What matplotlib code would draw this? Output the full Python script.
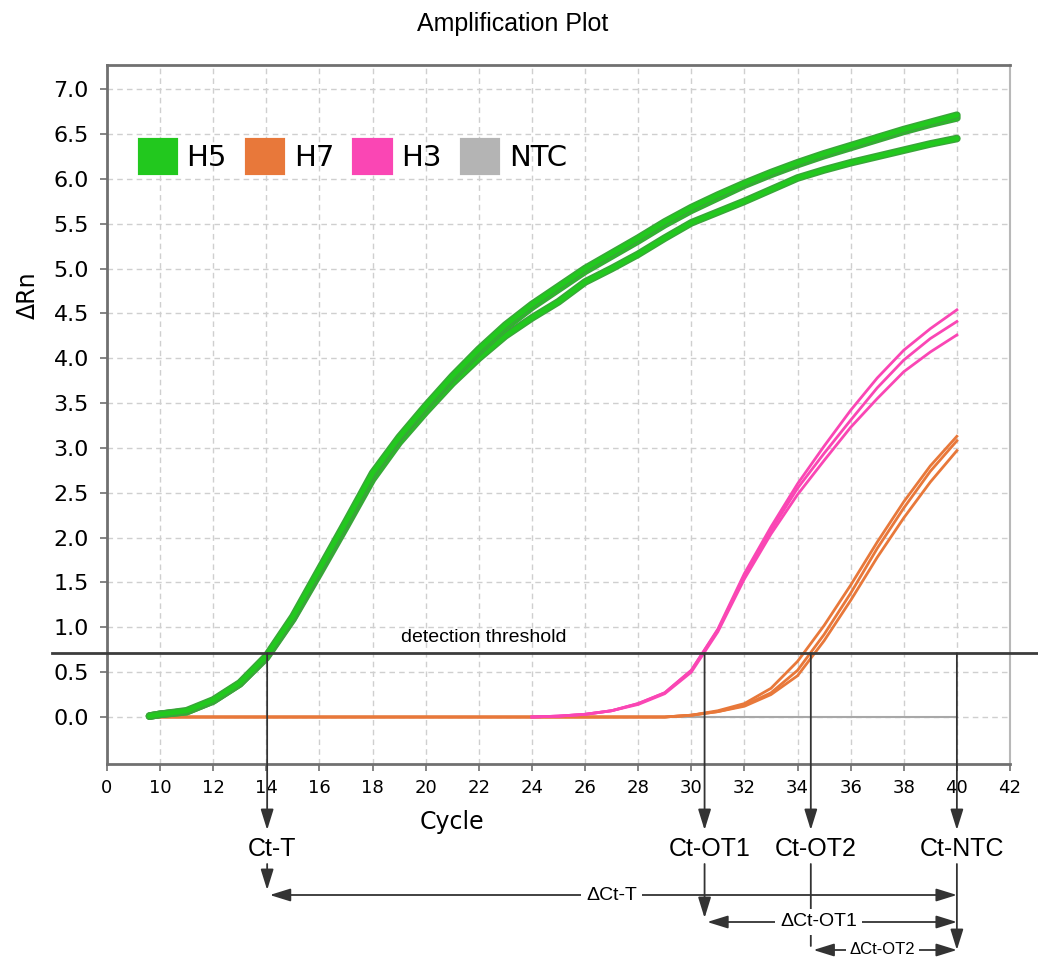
import matplotlib
matplotlib.use("Agg")
import matplotlib.pyplot as plt
import matplotlib.patheffects as pe
from matplotlib.patches import Patch

# Amplification data (cycle -> delta Rn)
cycles = [9.6, 10, 11, 12, 13, 14, 15, 16, 17, 18, 19, 20, 21, 22, 23, 24, 25,
          26, 27, 28, 29, 30, 31, 32, 33, 34, 35, 36, 37, 38, 39, 40]

h5_a = [0.01, 0.03, 0.07, 0.19, 0.38, 0.68, 1.12, 1.65, 2.18, 2.72, 3.12, 3.47,
        3.80, 4.10, 4.37, 4.60, 4.80, 5.00, 5.17, 5.34, 5.52, 5.68, 5.82, 5.95,
        6.07, 6.18, 6.28, 6.37, 6.46, 6.55, 6.63, 6.71]
h5_b = [0.01, 0.03, 0.06, 0.18, 0.37, 0.67, 1.10, 1.63, 2.15, 2.69, 3.10, 3.44,
        3.77, 4.07, 4.34, 4.57, 4.77, 4.97, 5.14, 5.31, 5.49, 5.65, 5.79, 5.93,
        6.05, 6.16, 6.26, 6.35, 6.44, 6.53, 6.61, 6.68]
h5_c = [0.01, 0.03, 0.06, 0.18, 0.37, 0.66, 1.09, 1.60, 2.12, 2.65, 3.06, 3.40,
        3.72, 4.00, 4.25, 4.45, 4.63, 4.85, 5.00, 5.16, 5.34, 5.51, 5.63, 5.75,
        5.88, 6.01, 6.10, 6.18, 6.25, 6.32, 6.39, 6.45]

h7_a = [0, 0, 0, 0, 0, 0, 0, 0, 0, 0, 0, 0, 0, 0, 0, 0, 0, 0, 0, 0,
        0.0, 0.02, 0.07, 0.15, 0.32, 0.62, 1.02, 1.47, 1.95, 2.40, 2.80, 3.13]
h7_b = [0, 0, 0, 0, 0, 0, 0, 0, 0, 0, 0, 0, 0, 0, 0, 0, 0, 0, 0, 0,
        0.0, 0.02, 0.06, 0.13, 0.27, 0.52, 0.92, 1.38, 1.88, 2.33, 2.74, 3.08]
h7_c = [0, 0, 0, 0, 0, 0, 0, 0, 0, 0, 0, 0, 0, 0, 0, 0, 0, 0, 0, 0,
        0.0, 0.02, 0.06, 0.12, 0.25, 0.46, 0.85, 1.30, 1.78, 2.22, 2.62, 2.97]

h3_cycles = [24, 25, 26, 27, 28, 29, 30, 31, 32, 33, 34, 35, 36, 37, 38, 39, 40]
h3_a = [0.0, 0.01, 0.03, 0.07, 0.15, 0.27, 0.52, 0.98, 1.60, 2.12, 2.60, 3.02,
        3.42, 3.78, 4.09, 4.33, 4.54]
h3_b = [0.0, 0.01, 0.03, 0.07, 0.15, 0.27, 0.52, 0.97, 1.57, 2.08, 2.55, 2.94,
        3.31, 3.67, 3.98, 4.22, 4.41]
h3_c = [0.0, 0.01, 0.03, 0.07, 0.14, 0.26, 0.50, 0.95, 1.54, 2.04, 2.48, 2.86,
        3.23, 3.55, 3.85, 4.07, 4.26]

ntc = [0, 0, 0, 0, 0, 0, 0, 0, 0, 0, 0, 0, 0, 0, 0, 0,
       0, 0, 0, 0, 0, 0, 0, 0, 0, 0, 0, 0, 0, 0, 0, 0]

threshold = 0.71
ct_names = ['Ct-T', 'Ct-OT1', 'Ct-OT2', 'Ct-NTC']
ct_values = [14.03, 30.5, 34.5, 40.0]

xtick_pos = [8, 10, 12, 14, 16, 18, 20, 22, 24, 26, 28, 30, 32, 34, 36, 38, 40, 42]
xtick_labels = ['0', '10', '12', '14', '16', '18', '20', '22', '24', '26', '28',
                '30', '32', '34', '36', '38', '40', '42']
ytick_pos = [0.0, 0.5, 1.0, 1.5, 2.0, 2.5, 3.0, 3.5, 4.0, 4.5, 5.0, 5.5, 6.0,
             6.5, 7.0]

GREEN = '#22c81e'
ORANGE = '#e8783a'
PINK = '#fa46b4'
GRAY = '#b4b4b4'
SANS = ['Liberation Sans', 'DejaVu Sans']

fig = plt.figure(figsize=(10.38, 9.64), dpi=100)
ax = fig.add_axes([107 / 1038, 200 / 964, 903 / 1038, 699 / 964])

# Curves
ax.plot(cycles, ntc, color='#a8a8a8', lw=1.5, zorder=2)
for ys in (h7_a, h7_b, h7_c):
    ax.plot(cycles, ys, color=ORANGE, lw=2.0, zorder=3)
for ys in (h3_a, h3_b, h3_c):
    ax.plot(h3_cycles, ys, color=PINK, lw=2.0, zorder=4)
green_fx = [pe.Stroke(linewidth=5.5, foreground='#3aa53a'), pe.Normal()]
for ys in (h5_c, h5_b, h5_a):
    ax.plot(cycles, ys, color=GREEN, lw=3.5, zorder=5, path_effects=green_fx,
            solid_capstyle='round')

# Axes styling
ax.set_xlim(8, 42)
ax.set_ylim(-0.524, 7.27)
ax.set_xticks(xtick_pos)
ax.set_xticklabels(xtick_labels, fontsize=13)
ax.set_yticks(ytick_pos)
ax.set_yticklabels(['%.1f' % v for v in ytick_pos], fontsize=16)
ax.tick_params(axis='both', direction='out', length=5, width=1.2,
               color='#707070', pad=6)
ax.tick_params(axis='y', pad=8)
ax.grid(True, linestyle=(0, (4, 3)), color='#cfcfcf', lw=1.0)
ax.set_axisbelow(True)
for side in ('left', 'bottom', 'top'):
    ax.spines[side].set_color('#707070')
    ax.spines[side].set_linewidth(2)
ax.spines['right'].set_color('#b8b8b8')
ax.spines['right'].set_linewidth(1.5)

ax.set_xlabel('Cycle', fontsize=17)
ax.xaxis.set_label_coords((452 - 107) / 903, (764 - 810) / 699)
ax.set_ylabel('\u0394Rn', fontsize=17)
ax.yaxis.set_label_coords((40 - 107) / 903, (764 - 295) / 699)
fig.text(513 / 1038, 1 - 24 / 964, 'Amplification Plot', fontsize=18,
         family=SANS, ha='center', va='center')

# Legend
handles = [Patch(facecolor=c, edgecolor=c, linewidth=3, joinstyle='round', label=l)
           for c, l in zip([GREEN, ORANGE, PINK, GRAY], ['H5', 'H7', 'H3', 'NTC'])]
ax.legend(handles=handles, ncol=4, loc='upper left', frameon=False,
          bbox_to_anchor=(0.036, 0.893), borderaxespad=0, borderpad=0,
          fontsize=21, handlelength=1.25, handleheight=1.35,
          handletextpad=0.35, columnspacing=0.7)

# Detection threshold
ax.axhline(threshold, xmin=-0.061, xmax=1.031, color='#3c3c3c', lw=2,
           clip_on=False, zorder=6)
ax.text(22.2, threshold + 0.08, 'detection threshold', fontsize=14,
        ha='center', va='bottom', family=SANS, zorder=6)

# Ct arrows and labels below the axis
FH = 964
coords = ('data', 'figure pixels')
arrow = dict(arrowstyle='-|>,head_length=0.9,head_width=0.28', color='#333333',
             lw=1.3, mutation_scale=14, shrinkA=0, shrinkB=0)
line = dict(arrowstyle='-', color='#333333', lw=1.3, shrinkA=0, shrinkB=0)
darrow = dict(arrowstyle='<|-|>,head_length=0.9,head_width=0.28',
              color='#333333', lw=1.3, mutation_scale=14, shrinkA=0, shrinkB=0)

for name, ct in zip(ct_names, ct_values):
    ax.annotate('', xy=(ct, FH - 830), xycoords=coords,
                xytext=(ct, threshold), textcoords='data',
                arrowprops=arrow, annotation_clip=False, zorder=7)
    ax.annotate(name, xy=(ct + 0.2, FH - 849), xycoords=coords,
                ha='center', va='center', fontsize=18, family=SANS,
                annotation_clip=False)

# vertical drops from labels
drop_ends = [890, 918, 946, 950]
for i, (ct, end) in enumerate(zip(ct_values, drop_ends)):
    props = line if i == 2 else arrow
    ax.annotate('', xy=(ct, FH - end), xycoords=coords,
                xytext=(ct, FH - 864), textcoords=coords,
                arrowprops=props, annotation_clip=False)

# delta Ct spans
spans = [(ct_values[0], 895, '\u0394Ct-T', 27.0, 14),
         (ct_values[1], 922, '\u0394Ct-OT1', 34.8, 14),
         (ct_values[2], 950, '\u0394Ct-OT2', 37.2, 12)]
for start, ypix, label, xc, fs in spans:
    ax.annotate('', xy=(start + 0.1, FH - ypix), xycoords=coords,
                xytext=(ct_values[3], FH - ypix), textcoords=coords,
                arrowprops=darrow, annotation_clip=False)
    ax.annotate(label, xy=(xc, FH - ypix), xycoords=coords, ha='center',
                va='center', fontsize=fs, family=SANS, annotation_clip=False,
                bbox=dict(boxstyle='square,pad=0.25', fc='white', ec='none'))

fig.savefig('out.png', dpi=100)
